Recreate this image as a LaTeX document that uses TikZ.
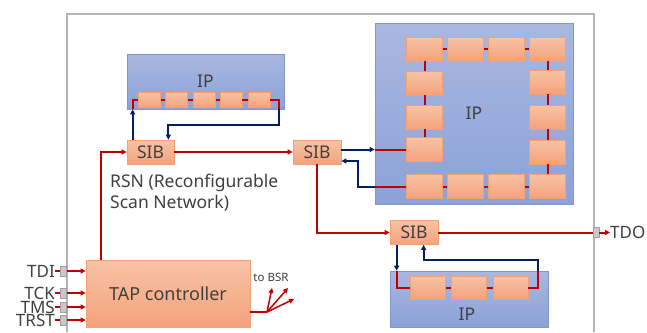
\documentclass[tikz,border=0pt]{standalone}
\usepackage{fontspec}
\setmainfont{Noto Sans}
\usetikzlibrary{arrows.meta,calc}
\definecolor{redl}{HTML}{C00000}
\definecolor{bluel}{HTML}{002060}
\definecolor{celltop}{HTML}{F8C3A6}
\definecolor{cellbot}{HTML}{F4A27C}
\definecolor{cellb}{HTML}{F3A073}
\definecolor{iptop}{HTML}{A9B8E0}
\definecolor{ipbot}{HTML}{8CA1D7}
\definecolor{ipb}{HTML}{7F96D0}
\definecolor{txt}{HTML}{404040}
\definecolor{chip}{HTML}{B4B4B4}
\definecolor{padc}{HTML}{C8C8C8}
\begin{document}
\begin{tikzpicture}[x=1pt,y=-1pt,
  cell/.style={draw=cellb, line width=0.7pt, top color=celltop, bottom color=cellbot, inner sep=0pt, text=txt},
  sib/.style={cell, minimum width=47pt, minimum height=24pt, font=\fontsize{17.5}{20}\selectfont},
  ipbox/.style={draw=ipb, line width=0.7pt, top color=iptop, bottom color=ipbot, inner sep=0pt, text=txt, font=\fontsize{17.5}{20}\selectfont},
  rl/.style={draw=redl, line width=2pt},
  bl/.style={draw=bluel, line width=2pt},
  arr/.style={-{Triangle[length=5pt,width=5pt]}},
  padbox/.style={draw=padc!80!black, line width=0.3pt, fill=padc, minimum width=6pt, minimum height=10pt, inner sep=0pt},
  lbl/.style={text=txt, inner sep=0pt, font=\fontsize{17}{20}\selectfont}
]
\useasboundingbox (0,0) rectangle (647,332);
\fill[white] (0,0) rectangle (647,332);
% chip outline
\draw[chip, line width=1.5pt] (67,332) -- (67,14) -- (594,14) -- (594,332);

% IP boxes
\node[ipbox, minimum width=157pt, minimum height=55pt] (ip1) at (205.5,81.5) {IP};
\node[ipbox, minimum width=198pt, minimum height=181pt] (ip2) at (474,113.5) {IP};
\node[ipbox, minimum width=158pt, minimum height=56pt] (ip3) at (469,299) {};
\node[lbl, font=\fontsize{17.5}{20}\selectfont] (ip3l) at (467,314) {IP};

% IP1 cells
\foreach \x [count=\i] in {149.5,176.5,204.5,231,259}
  \node[cell, minimum width=22pt, minimum height=15pt] (a\i) at (\x,99.5) {};
% IP2 cells
\foreach \x [count=\i] in {424.5,465.5,506.5,547.5}
  \node[cell, minimum width=36pt, minimum height=24pt] (t\i) at (\x,49) {};
\foreach \y [count=\i] in {83,117,149.5}
  \node[cell, minimum width=36pt, minimum height=24pt] (l\i) at (424.5,\y) {};
\foreach \y [count=\i] in {82,117,152}
  \node[cell, minimum width=36pt, minimum height=24pt] (r\i) at (547.5,\y) {};
\foreach \x [count=\i] in {424.5,465.5,506.5,547.5}
  \node[cell, minimum width=36pt, minimum height=24pt] (b\i) at (\x,186.5) {};
% IP3 cells
\foreach \x [count=\i] in {428,469,510.5}
  \node[cell, minimum width=35pt, minimum height=23pt] (c\i) at (\x,287.5) {};

% SIBs and TAP
\node[sib] (sib1) at (150.5,152) {SIB};
\node[sib, minimum width=48pt] (sib2) at (317,152) {SIB};
\node[sib, minimum width=48pt] (sib3) at (414,232.5) {SIB};
\node[cell, minimum width=164pt, minimum height=67pt, font=\fontsize{18}{20}\selectfont] (tap) at (168,293.5) {TAP controller};

% RSN label
\node[lbl, align=left, anchor=north west, font=\fontsize{17.5}{21}\selectfont] (rsn) at (110,174) {RSN (Reconfigurable\\Scan Network)};

% IP1 chain
\coordinate (s1a) at ($(sib1.north west)+(6,0)$);
\coordinate (s1b) at ($(sib1.north east)+(-6,0)$);
\coordinate (ip1r) at ($(ip1.south east)+(-5,0)$);
\draw[rl] (s1a |- ip1.south) |- (a1.west);
\draw[rl] (a1.east) -- (a2.west);
\draw[rl] (a2.east) -- (a3.west);
\draw[rl] (a3.east) -- (a4.west);
\draw[rl] (a4.east) -- (a5.west);
\draw[rl] (a5.east) -| (ip1r);
\draw[bl,arr] (s1a) -- (s1a |- ip1.south);
\draw[bl,arr] (ip1r) -- ++(0,16) -| (s1b);

% main scan path
\draw[rl,arr] ($(tap.north west)+(15,0)$) |- (sib1.west);
\draw[rl,arr] (sib1) -- (sib2);

% IP2 chain
\draw[bl,arr] (sib2.east |- l3) -- (ip2.west |- l3);
\draw[rl] (ip2.west |- l3) -- (l3.west);
\draw[rl] (l3.north) -- (l2.south);
\draw[rl] (l2.north) -- (l1.south);
\draw[rl] (l1.north) -- (t1.south);
\draw[rl] (t1.east) -- (t2.west);
\draw[rl] (t2.east) -- (t3.west);
\draw[rl] (t3.east) -- (t4.west);
\draw[rl] (t4.south) -- (r1.north);
\draw[rl] (r1.south) -- (r2.north);
\draw[rl] (r2.south) -- (r3.north);
\draw[rl] (r3.south) -- (b4.north);
\draw[rl] (b4.west) -- (b3.east);
\draw[rl] (b3.west) -- (b2.east);
\draw[rl] (b2.west) -- (b1.east);
\draw[rl] (b1.west) -- (ip2.west |- b1);
\draw[bl,arr] (ip2.west |- b1) -- ++(-17,0) |- ($(sib2.east)+(0,9)$);

% SIB2 -> SIB3 -> TDO
\draw[rl,arr] (sib2.south) |- (sib3.west);
\node[padbox] (tdopad) at (596,232.5) {};
\node[lbl, anchor=west] (tdo) at (610,232.5) {TDO};
\draw[rl] (sib3.east) -- (tdopad.west);
\draw[rl,arr] (tdopad.east) -- (tdo.west);

% IP3 chain
\coordinate (s3a) at ($(sib3.south west)+(7,0)$);
\coordinate (s3b) at ($(sib3.south west)+(34,0)$);
\coordinate (ip3r) at ($(ip3.north east)+(-10,0)$);
\draw[rl] (s3a |- ip3.north) |- (c1.west);
\draw[rl] (c1.east) -- (c2.west);
\draw[rl] (c2.east) -- (c3.west);
\draw[rl] (c3.east) -| (ip3r);
\draw[bl,arr] (s3a) -- (s3a |- ip3.north);
\draw[bl,arr] (ip3r) -- ++(0,-11) -| (s3b);

% TAP inputs
\foreach \nm/\y in {TDI/271,TCK/293,TMS/307,TRST/320}{
  \node[lbl, anchor=east] (in\nm) at (55,\y) {\nm};
  \draw[rl,arr] (in\nm.east) -- (tap.west |- in\nm);
  \node[padbox] (pad\nm) at (63.5,\y) {};
}

% to BSR
\node[lbl, font=\fontsize{11.5}{13}\selectfont] (bsr) at (271,277) {to BSR};
\coordinate (fan) at (267,312);
\coordinate (f1) at (272,288);
\coordinate (f2) at (288,288);
\coordinate (f3) at (294,299);
\draw[rl] (tap.east |- fan) -- (fan);
\draw[rl,arr,line width=1.5pt] (fan) -- (f1);
\draw[rl,arr,line width=1.5pt] (fan) -- (f2);
\draw[rl,arr,line width=1.5pt] (fan) -- (f3);
\end{tikzpicture}
\end{document}
